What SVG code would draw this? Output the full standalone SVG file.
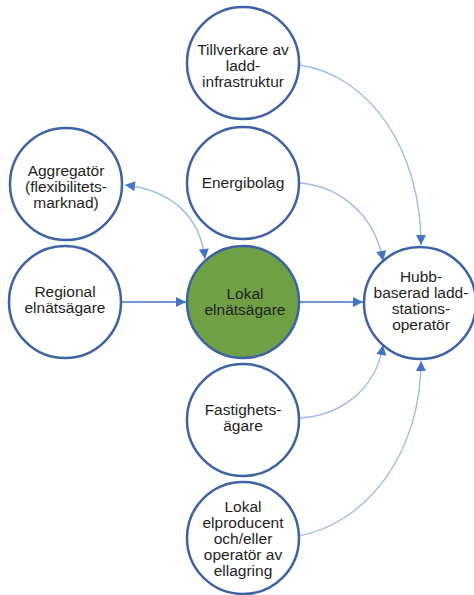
<svg xmlns="http://www.w3.org/2000/svg" width="474" height="595" viewBox="0 0 474 595">
  <defs>
    <marker id="arrow" viewBox="0 0 10 10" refX="10" refY="5" markerWidth="11" markerHeight="10" markerUnits="userSpaceOnUse" orient="auto-start-reverse">
      <path d="M0,0 L10,5 L0,10 z" fill="#4472c4"/>
    </marker>
    <style>
      .node { fill: #ffffff; stroke: #3d62a5; stroke-width: 2.5; }
      .main { fill: #70a046; }
      .lbl { font-family: "Liberation Sans", Arial, sans-serif; font-size: 15.5px; fill: #1e1e1e; text-anchor: middle; }
      .edge { fill: none; stroke: #a3bce6; stroke-width: 1.4; }
      .edge.strong { stroke: #4472c4; stroke-width: 1.3; }
    </style>
  </defs>
  <rect width="474" height="595" fill="#ffffff"/>

  <g id="connectors">
    <path class="edge strong" d="M121,302 L186,302" marker-end="url(#arrow)"/>
    <path class="edge strong" d="M300,302 L363,302" marker-end="url(#arrow)"/>
    <path class="edge" d="M125,185 C170,190 200,215 205,259" marker-start="url(#arrow)" marker-end="url(#arrow)"/>
    <path class="edge" d="M299,65 C370,75 421,150 421,245" marker-end="url(#arrow)"/>
    <path class="edge" d="M299,183 C340,186 375,215 383,261" marker-end="url(#arrow)"/>
    <path class="edge" d="M299,418 C340,416 376,390 383,345" marker-end="url(#arrow)"/>
    <path class="edge" d="M299,536 C370,522 421,450 421,361" marker-end="url(#arrow)"/>
  </g>

  <g id="tillverkare">
    <circle class="node" cx="243" cy="63" r="56"/>
    <text class="lbl" x="243"><tspan x="243" y="55">Tillverkare av</tspan><tspan x="243" y="71">ladd-</tspan><tspan x="243" y="87">infrastruktur</tspan></text>
  </g>

  <g id="energibolag">
    <circle class="node" cx="243" cy="183" r="56"/>
    <text class="lbl" x="243" y="188">Energibolag</text>
  </g>

  <g id="aggregator">
    <circle class="node" cx="66" cy="184" r="56"/>
    <text class="lbl"><tspan x="66" y="176">Aggregatör</tspan><tspan x="66" y="192">(flexibilitets-</tspan><tspan x="66" y="208">marknad)</tspan></text>
  </g>

  <g id="regional">
    <circle class="node" cx="65" cy="302" r="56"/>
    <text class="lbl"><tspan x="65" y="297">Regional</tspan><tspan x="65" y="313">elnätsägare</tspan></text>
  </g>

  <g id="lokal-elnatsagare">
    <circle class="node main" cx="243" cy="302" r="56"/>
    <text class="lbl"><tspan x="245" y="299">Lokal</tspan><tspan x="245" y="315">elnätsägare</tspan></text>
  </g>

  <g id="hubb">
    <circle class="node" cx="420" cy="303" r="56"/>
    <text class="lbl"><tspan x="421" y="282">Hubb-</tspan><tspan x="421" y="298">baserad ladd-</tspan><tspan x="421" y="314">stations-</tspan><tspan x="421" y="330">operatör</tspan></text>
  </g>

  <g id="fastighetsagare">
    <circle class="node" cx="243" cy="420" r="56"/>
    <text class="lbl"><tspan x="243" y="415">Fastighets-</tspan><tspan x="243" y="431">ägare</tspan></text>
  </g>

  <g id="lokal-elproducent">
    <circle class="node" cx="243" cy="538" r="56"/>
    <text class="lbl"><tspan x="243" y="512">Lokal</tspan><tspan x="243" y="528">elproducent</tspan><tspan x="243" y="544">och/eller</tspan><tspan x="243" y="560">operatör av</tspan><tspan x="243" y="576">ellagring</tspan></text>
  </g>
</svg>
